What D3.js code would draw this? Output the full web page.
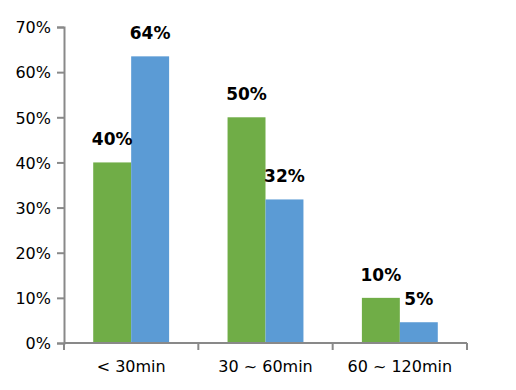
<html>
<script src="https://d3js.org/d3.v7.min.js"></script>
<style>
    body { margin: 0; background: #fff; }
    text { font-family: "DejaVu Sans", sans-serif; fill: #000; }
</style>
<body>
<svg id="chart" width="516" height="390"></svg>
<script>
// data
var categories = ["< 30min", "30 ~ 60min", "60 ~ 120min"];
var seriesNames = ["A", "B"];
var greenValues = [0.40, 0.50, 0.10];
var blueValues = [0.635, 0.318, 0.046];
var yTicks = [0, 0.1, 0.2, 0.3, 0.4, 0.5, 0.6, 0.7];
var colors = ["#70AD47", "#5B9BD5"];

var margin = {top: 27, right: 49, bottom: 47, left: 64};
var width = 516 - margin.left - margin.right;
var height = 390 - margin.top - margin.bottom;

var svg = d3.select("#chart")
    .append("g")
    .attr("transform", "translate(" + margin.left + "," + margin.top + ")");

var x0 = d3.scaleBand().domain(categories).range([0, width]).padding(0);
var x1 = d3.scaleBand().domain(seriesNames).range([0, x0.bandwidth()])
    .paddingInner(0).paddingOuter(0.77);
var y = d3.scaleLinear().domain([0, 0.7]).range([height, 0]);

// y axis
var yAxis = svg.append("g")
    .call(d3.axisLeft(y).tickValues(yTicks).tickFormat(d3.format(".0%")).tickSize(7).tickPadding(6));
yAxis.selectAll("text").style("font-size", "16px").attr("dy", "0.36em");

// x axis, ticks at category boundaries
var xAxis = svg.append("g").attr("transform", "translate(0," + height + ")");
xAxis.append("line").attr("x1", 0).attr("x2", width);
xAxis.selectAll(".bt")
    .data(categories.concat(["end"]))
    .enter().append("line")
    .attr("x1", function(d, i) { return i * x0.step(); })
    .attr("x2", function(d, i) { return i * x0.step(); })
    .attr("y1", 0).attr("y2", 7);
xAxis.selectAll(".cl")
    .data(categories)
    .enter().append("text")
    .attr("x", function(d) { return x0(d) + x0.bandwidth() / 2; })
    .attr("y", 29)
    .attr("text-anchor", "middle")
    .style("font-size", "16px")
    .text(function(d) { return d; });

[yAxis, xAxis].forEach(function(a) {
    a.select(".domain").attr("stroke", "#898989").attr("stroke-width", 2);
    a.selectAll("line").attr("stroke", "#898989").attr("stroke-width", 2);
});

// bars
var rows = categories.map(function(c, i) {
    return {cat: c, vals: [greenValues[i], blueValues[i]]};
});

var groups = svg.selectAll(".grp")
    .data(rows)
    .enter().append("g")
    .attr("transform", function(d) { return "translate(" + x0(d.cat) + ",0)"; });

var cells = groups.selectAll(".cell")
    .data(function(d) { return d.vals.map(function(v, j) { return {s: seriesNames[j], v: v, j: j}; }); })
    .enter();

cells.append("rect")
    .attr("x", function(d) { return x1(d.s); })
    .attr("y", function(d) { return y(d.v); })
    .attr("width", x1.bandwidth())
    .attr("height", function(d) { return height - y(d.v); })
    .attr("fill", function(d) { return colors[d.j]; });

cells.append("text")
    .attr("x", function(d) { return x1(d.s) + x1.bandwidth() / 2; })
    .attr("y", function(d) { return y(d.v) - 17; })
    .attr("text-anchor", "middle")
    .style("font-size", "17px")
    .style("font-weight", "bold")
    .text(function(d) { return Math.round(d.v * 100) + "%"; });

// axes drawn over bars
yAxis.raise();
xAxis.raise();
</script>
</body>
</html>
